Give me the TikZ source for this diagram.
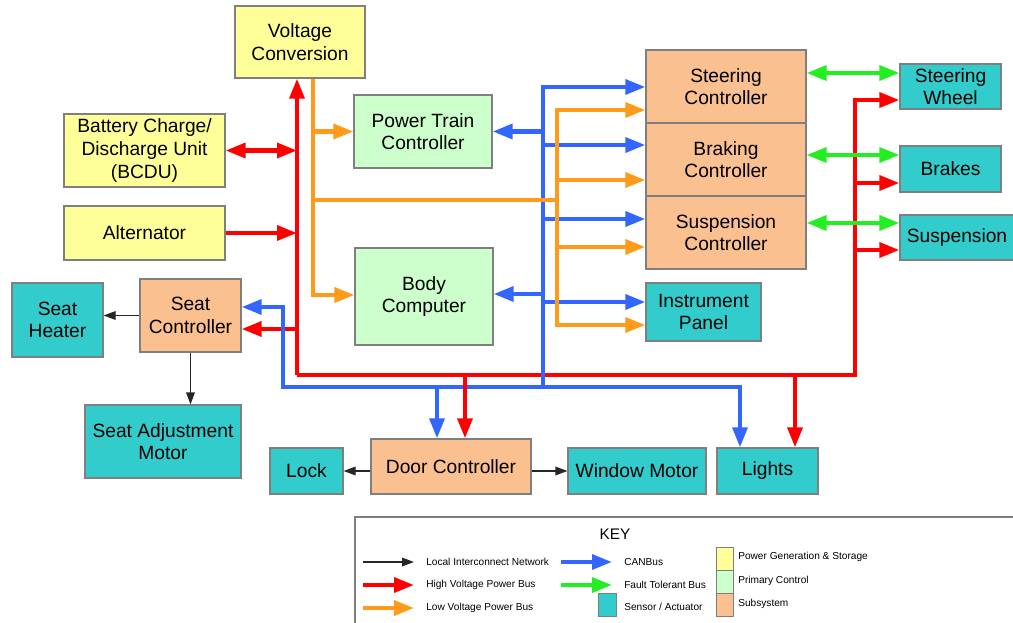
\documentclass[tikz,border=0pt]{standalone}
\usepackage{fontspec}
\setmainfont{Liberation Sans}
\usetikzlibrary{arrows.meta,calc}
\definecolor{powyellow}{HTML}{FFFF99}
\definecolor{ctrlgreen}{HTML}{CCFFCC}
\definecolor{subpeach}{HTML}{FAC090}
\definecolor{sensteal}{HTML}{33CCCC}
\definecolor{hvred}{HTML}{FF0000}
\definecolor{lvorange}{HTML}{FF9A1A}
\definecolor{canblue}{HTML}{3366FF}
\definecolor{ftgreen}{HTML}{22EE22}
\definecolor{boxedge}{HTML}{7F7F7F}
\tikzset{sz/.style 2 args={minimum width=#1*0.75pt,minimum height=#2*0.75pt}}

\begin{document}
\begin{tikzpicture}[x=0.75pt,y=-0.75pt,
    >={Triangle[length=15pt,width=11pt]},
    blk/.style={draw=boxedge,line width=0.9pt,align=center,inner sep=0pt,
        font=\fontsize{14.4}{17}\selectfont},
    pwr/.style={blk,fill=powyellow},
    ctl/.style={blk,fill=ctrlgreen},
    sub/.style={blk,fill=subpeach},
    sens/.style={blk,fill=sensteal},
    hv/.style={hvred,line width=3.2pt,line join=miter},
    lv/.style={lvorange,line width=3.2pt,line join=miter},
    can/.style={canblue,line width=3.2pt,line join=miter},
    ft/.style={ftgreen,line width=3.2pt},
    lin/.style={black!85,line width=0.9pt,-{Triangle[length=9pt,width=6.5pt]}},
    keytxt/.style={inner sep=0pt,font=\fontsize{7.6}{9}\selectfont}]
    \useasboundingbox (0,0) rectangle (1013,623);

    % Power generation & storage
    \node[pwr,sz={130}{72}] (volt) at (300,42) {Voltage\\Conversion};
    \node[pwr,sz={161}{73}] (bcdu) at (144.5,150.5) {Battery Charge/\\Discharge Unit\\(BCDU)};
    \node[pwr,sz={161}{54}] (alt) at (144.5,233) {Alternator};

    % Primary control
    \node[ctl,sz={138}{73}] (ptc) at (423,131.5) {Power Train\\Controller};
    \node[ctl,sz={138}{97}] (body) at (424,296.5) {Body\\Computer};

    % Subsystems
    \node[sub,sz={160}{73}] (steer) at (726,86.5) {Steering\\Controller};
    \node[sub,sz={160}{73}] (brake) at (726,159.5) {Braking\\Controller};
    \node[sub,sz={160}{73}] (susp) at (726,232.5) {Suspension\\Controller};
    \node[sub,sz={101}{73}] (seat) at (190.5,315.5) {Seat\\Controller};
    \node[sub,sz={160}{55}] (door) at (451,466.5) {Door Controller};

    % Sensors / actuators
    \node[sens,sz={101}{45}] (wheel) at (950.5,86.5) {Steering\\Wheel};
    \node[sens,sz={101}{46}] (brakes) at (950.5,169) {Brakes};
    \node[sens,sz={114}{45}] (suspa) at (957,237.5) {Suspension};
    \node[sens,sz={115}{58}] (instr) at (703.5,312) {Instrument\\Panel};
    \node[sens,sz={91}{74}] (heater) at (57.5,320) {Seat\\Heater};
    \node[sens,sz={156}{73}] (adjust) at (163,441.5) {Seat Adjustment\\Motor};
    \node[sens,sz={73}{46}] (lock) at (306.5,471) {Lock};
    \node[sens,sz={138}{46}] (window) at (637,471) {Window Motor};
    \node[sens,sz={101}{46}] (lights) at (767.5,471) {Lights};

    % Bus corners and taps
    \coordinate (hvA) at (297,375);
    \coordinate (hvB) at (855,375);
    \coordinate (hvW) at (855,100);
    \coordinate (hvS) at (297,329);
    \coordinate (hvD) at (465,375);
    \coordinate (hvL) at (795,375);
    \coordinate (lvA) at (313,295);
    \coordinate (lvB) at (313,200);
    \coordinate (lvC) at (557,200);
    \coordinate (lvT) at (557,110);
    \coordinate (lvE) at (557,325);
    \coordinate (cnT) at (543,87);
    \coordinate (cnB) at (543,387);
    \coordinate (cnL) at (283,387);
    \coordinate (cnS) at (283,307);
    \coordinate (cnR) at (740,387);
    \coordinate (cnD) at (437,387);

    % High voltage power bus
    \draw[hv,->] (hvA) -- (hvB) |- (wheel.west |- hvW);
    \draw[hv,->] (hvA) -- (volt.south -| hvA);
    \draw[hv,<->] (bcdu.east) -- (bcdu.east -| hvA);
    \draw[hv,->] (alt.east) -- (alt.east -| hvA);
    \draw[hv,->] (hvS) -- (seat.east |- hvS);
    \draw[hv,->] (hvL) -- (lights.north -| hvL);
    \foreach \tgt/\yy in {brakes/183, suspa/250} {
        \coordinate (hv-\tgt) at (855,\yy);
        \draw[hv,->] (hv-\tgt) -- (\tgt.west |- hv-\tgt);
    }

    % CANBus
    \draw[can,->] (cnB) -- (cnT) -- (steer.west |- cnT);
    \draw[can,->] (cnB) -- (cnL) -- (cnS) -- (seat.east |- cnS);
    \draw[can,->] (cnB) -- (cnR) -- (lights.north -| cnR);
    \draw[can,->] (cnD) -- (door.north -| cnD);
    \draw[can,->] (ptc.east -| cnT) -- (ptc.east);
    \coordinate (cn-body) at (543,294);
    \draw[can,->] (cn-body) -- (body.east |- cn-body);
    \foreach \tgt/\yy in {brake/145, susp/219, instr/302} {
        \coordinate (cn-\tgt) at (543,\yy);
        \draw[can,->] (cn-\tgt) -- (\tgt.west |- cn-\tgt);
    }
    \draw[hv,->] (hvD) -- (door.north -| hvD);

    % Low voltage power bus
    \draw[lv,->] (volt.south -| lvA) -- (lvA) -- (body.west |- lvA);
    \draw[lv,->] (ptc.west -| lvA) -- (ptc.west);
    \draw[lv] (lvB) -- (lvC);
    \draw[lv,->] (lvE) -- (lvT) -- (steer.west |- lvT);
    \draw[lv,->] (lvT) -- (lvE) -- (instr.west |- lvE);
    \foreach \tgt/\yy in {brake/180, susp/247} {
        \coordinate (lv-\tgt) at (557,\yy);
        \draw[lv,->] (lv-\tgt) -- (\tgt.west |- lv-\tgt);
    }

    % Fault tolerant bus
    \foreach \src/\tgt/\yy in {steer/wheel/73, brake/brakes/155, susp/suspa/223} {
        \coordinate (ft-\tgt) at (855,\yy);
        \draw[ft,<->] (\src.east |- ft-\tgt) -- (\tgt.west |- ft-\tgt);
    }

    % Local interconnect network
    \draw[lin] (seat.west) -- (heater.east |- seat.west);
    \draw[lin] (seat.south) -- (adjust.north -| seat.south);
    \draw[lin] (door.west |- lock.east) -- (lock.east);
    \draw[lin] (door.east |- window.west) -- (window.west);

    % Key
    \draw[boxedge,line width=0.8pt] (355,623) |- (1013,517);
    \node[font=\fontsize{11.5}{13}\selectfont] (keyttl) at (615,534) {KEY};
    \foreach \k/\st/\tip/\xx/\yy/\txt in {k1/lin/lin/363/562/Local Interconnect Network,
            k2/hv/->/363/585/High Voltage Power Bus, k3/lv/->/363/608/Low Voltage Power Bus,
            k4/can/->/561/562/CANBus, k5/ft/->/561/585/Fault Tolerant Bus} {
        \coordinate (\k-s) at (\xx,\yy);
        \node[keytxt,anchor=west] (\k-t) at ($(\k-s)+(63,0)$) {\txt};
        \draw[\st,\tip] (\k-s) -- ([xshift=-9pt]\k-t.west);
    }
    \node[draw=boxedge,fill=sensteal,sz={18}{23},inner sep=0pt] (k6) at (607,604.5) {};
    \node[keytxt,anchor=west] (k6-t) at (624,607) {Sensor / Actuator};
    \foreach \k/\col/\yy/\ty/\txt in {k7/powyellow/559/557/Power Generation \& Storage,
            k8/ctrlgreen/582/581/Primary Control, k9/subpeach/604.5/604/Subsystem} {
        \node[draw=boxedge,fill=\col,sz={17}{23},inner sep=0pt] (\k) at (724.5,\yy) {};
        \node[keytxt,anchor=west] (\k-t) at (738,\ty) {\txt};
    }
\end{tikzpicture}
\end{document}
